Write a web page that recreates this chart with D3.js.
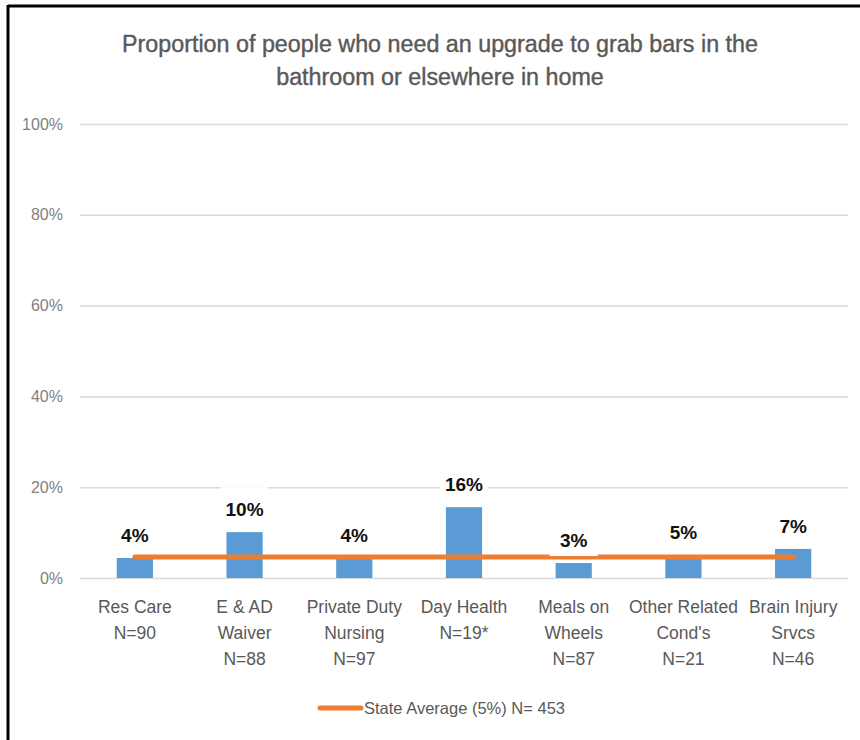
<!DOCTYPE html>
<html>
<head>
<meta charset="utf-8">
<script src="https://cdn.jsdelivr.net/npm/d3@7"></script>
<style>
html,body{margin:0;padding:0;background:#fff;}
svg{display:block;}
</style>
</head>
<body>
<svg id="chart" width="860" height="740"></svg>
<script>
const categories = ["Res Care|N=90", "E & AD|Waiver|N=88", "Private Duty|Nursing|N=97", "Day Health|N=19*", "Meals on|Wheels|N=87", "Other Related|Cond's|N=21", "Brain Injury|Srvcs|N=46"];
const values = [0.044, 0.101, 0.044, 0.156, 0.033, 0.05, 0.064];
const valueLabels = ["4%", "10%", "4%", "16%", "3%", "5%", "7%"];
const stateAverage = 0.046;
const legendLabel = "State Average (5%) N= 453";
const yTicks = [0, 0.2, 0.4, 0.6, 0.8, 1.0];
const titleLines = ["Proportion of people who need an upgrade to grab bars in the", "bathroom or elsewhere in home"];

const FONT = "'Liberation Sans', Arial, sans-serif";
const svg = d3.select("#chart");

// frame lines (top and left)
svg.append("line").attr("x1", 8).attr("x2", 860).attr("y1", 6).attr("y2", 6).attr("stroke", "#000").attr("stroke-width", 3);
svg.append("line").attr("x1", 8).attr("x2", 8).attr("y1", 5).attr("y2", 740).attr("stroke", "#000").attr("stroke-width", 3);

const x = d3.scaleBand().domain(categories).range([80, 848]).paddingInner(0.67).paddingOuter(0.335);
const y = d3.scaleLinear().domain([0, 1]).range([578, 124]);

// title
svg.append("text").attr("x", 440).attr("y", 44).attr("text-anchor", "middle")
  .attr("font-family", FONT).attr("font-size", 23.3).attr("fill", "#595959")
  .attr("stroke", "#595959").attr("stroke-width", 0.4)
  .selectAll("tspan").data(titleLines).join("tspan")
  .attr("x", 440).attr("dy", (d, i) => i === 0 ? "0.35em" : 33).text(d => d);

// gridlines + y axis
const yAxis = d3.axisLeft(y).tickValues(yTicks).tickFormat(d3.format(".0%")).tickSize(-(848 - 80)).tickPadding(17);
const gy = svg.append("g").attr("transform", "translate(80,0)").call(yAxis);
gy.select(".domain").remove();
gy.selectAll(".tick line").attr("stroke", "#d9d9d9").attr("stroke-width", 1.5);
gy.selectAll(".tick text").attr("font-family", FONT).attr("font-size", 16).attr("fill", "#7f7f7f");

// x axis labels
const xAxis = d3.axisBottom(x).tickSize(0).tickFormat("");
const gx = svg.append("g").attr("transform", "translate(0,578)").call(xAxis);
gx.select(".domain").remove();
gx.selectAll(".tick").each(function(d) {
  const lines = d.split("|");
  d3.select(this).append("text")
    .attr("text-anchor", "middle").attr("font-family", FONT).attr("font-size", 17.5).attr("fill", "#595959")
    .selectAll("tspan").data(lines).join("tspan")
    .attr("x", 0).attr("y", (l, i) => 29 + i * 26).attr("dy", "0.35em").text(l => l);
});

// bars
svg.append("g").selectAll("rect").data(values).join("rect")
  .attr("x", (d, i) => x(categories[i]))
  .attr("width", x.bandwidth())
  .attr("y", d => y(d))
  .attr("height", d => y(0) - y(d))
  .attr("fill", "#5b9bd5");

// state average line
svg.append("line")
  .attr("x1", x(categories[0]) + x.bandwidth() / 2)
  .attr("x2", x(categories[categories.length - 1]) + x.bandwidth() / 2)
  .attr("y1", y(stateAverage)).attr("y2", y(stateAverage))
  .attr("stroke", "#ed7d31").attr("stroke-width", 5).attr("stroke-linecap", "round");

// data labels with white background
const lg = svg.append("g").selectAll("g").data(values).join("g")
  .attr("transform", (d, i) => `translate(${x(categories[i]) + x.bandwidth() / 2},${y(d) - 23})`);
lg.append("rect").attr("x", -24).attr("y", -22).attr("width", 48).attr("height", 38).attr("fill", "#fff");
lg.append("text").attr("text-anchor", "middle").attr("dy", "0.35em")
  .attr("font-family", FONT).attr("font-size", 19).attr("font-weight", "bold").attr("fill", "#111")
  .text((d, i) => valueLabels[i]);

// legend
const leg = svg.append("g").attr("transform", "translate(0,708)");
leg.append("line").attr("x1", 320).attr("x2", 361).attr("y1", 0).attr("y2", 0)
  .attr("stroke", "#ed7d31").attr("stroke-width", 5).attr("stroke-linecap", "round");
leg.append("text").attr("x", 364).attr("dy", "0.35em").attr("font-family", FONT).attr("font-size", 16.5).attr("fill", "#595959").text(legendLabel);
</script>
</body>
</html>
